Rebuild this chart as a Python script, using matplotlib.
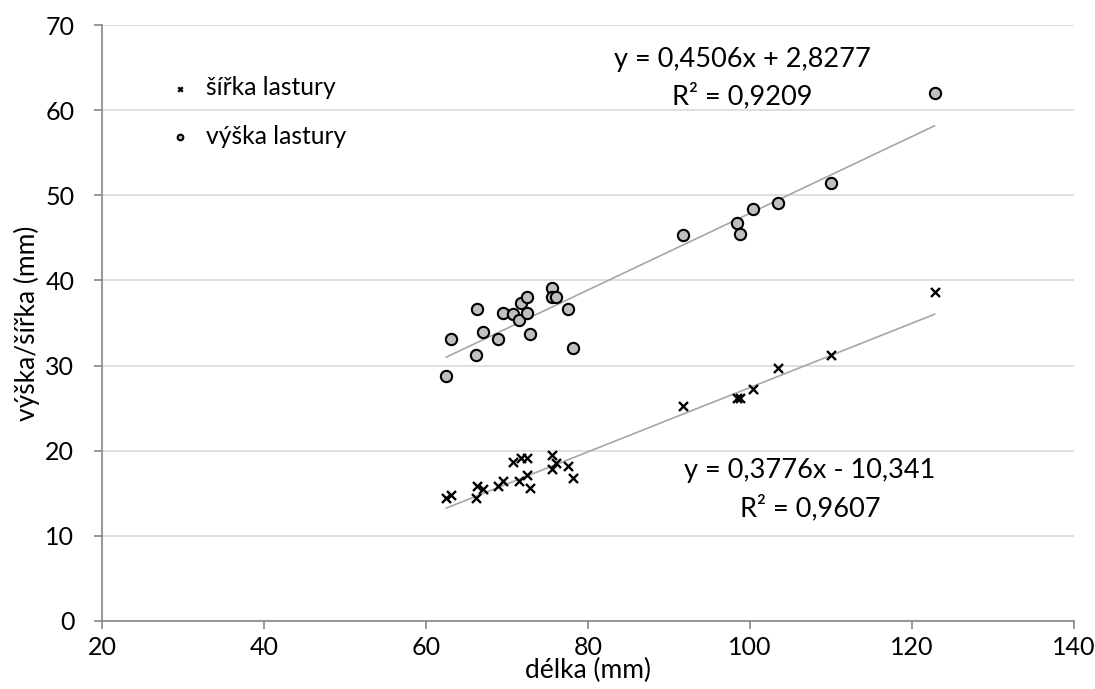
import numpy as np
import matplotlib
matplotlib.use("Agg")
import matplotlib.pyplot as plt
from matplotlib.ticker import MultipleLocator

plt.rcParams["font.family"] = ["Lato", "DejaVu Sans"]

# délka lastury (mm)
delka = [62.5, 63.1, 66.3, 66.2, 67.1, 68.9, 69.5, 70.7, 71.5, 71.7, 72.5, 72.5,
         72.9, 75.5, 75.5, 76.1, 77.5, 78.1,
         91.75, 98.4, 98.8, 100.4, 103.5, 110.0, 122.8]

# šířka lastury (mm)
sirka = [14.4, 14.8, 15.9, 14.4, 15.5, 15.9, 16.4, 18.7, 16.4, 19.2, 19.2, 17.2,
         15.6, 19.5, 17.9, 18.5, 18.2, 16.8,
         25.25, 26.2, 26.2, 27.2, 29.75, 31.2, 38.7]

# výška lastury (mm)
vyska = [28.8, 33.1, 36.6, 31.2, 34.0, 33.1, 36.2, 36.1, 35.4, 37.4, 38.1, 36.2,
         33.7, 39.1, 38.1, 38.1, 36.7, 32.1,
         45.3, 46.7, 45.5, 48.4, 49.1, 51.5, 62.0]

# koeficienty lineárních trendů
sirka_k, sirka_q, sirka_r2 = 0.3776, -10.341, 0.9607
vyska_k, vyska_q, vyska_r2 = 0.4506, 2.8277, 0.9209

fs = 19.5

fig = plt.figure(figsize=(10.95, 6.89), dpi=100)
ax = fig.add_axes([0.0932, 0.0987, 0.8875, 0.865])

grid_c = "#d9d9d9"
axis_c = "#868686"
trend_c = "#a6a6a6"

ax.scatter(delka, sirka, marker="x", s=42, c="black", linewidths=1.7,
           label="šířka lastury", zorder=3)
ax.scatter(delka, vyska, marker="o", s=66, facecolors="#bfbfbf",
           edgecolors="black", linewidths=1.5, label="výška lastury", zorder=3)

# trendové přímky
xs = np.array([min(delka), max(delka)])
ax.plot(xs, sirka_k * xs + sirka_q, color=trend_c, lw=1.2, zorder=2)
ax.plot(xs, vyska_k * xs + vyska_q, color=trend_c, lw=1.2, zorder=2)

def fmt(v, n):
    return f"{v:.{n}f}".replace(".", ",")

ax.text(99.1, 65.9, f"y = {fmt(vyska_k, 4)}x + {fmt(vyska_q, 4)}",
        ha="center", va="center", fontsize=fs)
ax.text(99.1, 61.7, f"R² = {fmt(vyska_r2, 4)}", ha="center", va="center",
        fontsize=fs)
ax.text(107.4, 17.7, f"y = {fmt(sirka_k, 4)}x - {fmt(-sirka_q, 3)}",
        ha="center", va="center", fontsize=fs)
ax.text(107.4, 13.3, f"R² = {fmt(sirka_r2, 4)}", ha="center", va="center",
        fontsize=fs)

ax.set_xlim(20, 140)
ax.set_ylim(0, 70)
ax.xaxis.set_major_locator(MultipleLocator(20))
ax.yaxis.set_major_locator(MultipleLocator(10))
ax.grid(axis="y", color=grid_c, lw=1.2)
ax.set_axisbelow(True)

for s in ["top", "right"]:
    ax.spines[s].set_visible(False)
for s in ["left", "bottom"]:
    ax.spines[s].set_color(axis_c)
    ax.spines[s].set_linewidth(1.2)
ax.tick_params(axis="both", direction="out", length=6, width=1.2,
               color=axis_c, labelsize=18)
ax.tick_params(axis="x", pad=5)
ax.tick_params(axis="y", pad=14)

ax.set_xlabel("délka (mm)", fontsize=19)
ax.xaxis.set_label_coords(0.5, -0.062)
ax.set_ylabel("výška/šířka (mm)", fontsize=19)
ax.yaxis.set_label_coords(-0.064, 0.5)

ax.legend(loc="upper left", bbox_to_anchor=(0.042, 0.935), frameon=False,
          fontsize=17.7, markerscale=0.5, handletextpad=0.05,
          labelspacing=1.05, borderpad=0)

fig.savefig("out.png", dpi=100)
